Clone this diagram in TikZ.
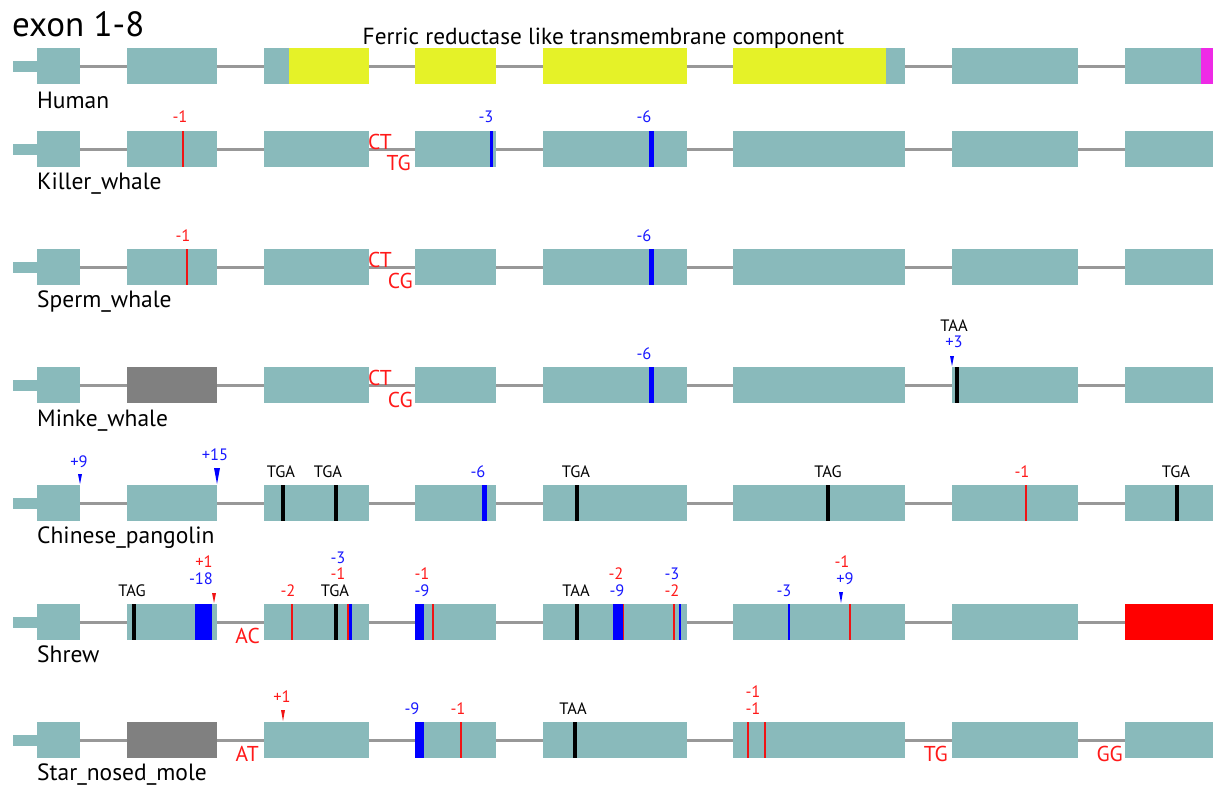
\documentclass[tikz,border=0pt]{standalone}
\usepackage{fontspec}
\setmainfont{PT Sans}
\definecolor{exonteal}{RGB}{137,186,187}
\definecolor{tmyellow}{RGB}{229,242,40}
\definecolor{tmmag}{RGB}{238,42,230}
\definecolor{introngray}{RGB}{152,152,152}
\definecolor{pseudogray}{RGB}{128,128,128}
\definecolor{mred}{RGB}{240,20,20}
\definecolor{purered}{RGB}{255,0,0}
\definecolor{mblue}{RGB}{0,0,255}
\definecolor{tred}{RGB}{255,25,25}
\definecolor{tblue}{RGB}{25,25,255}

% exon row: stub, eight exons (named <row>e1..e8) and the introns joining them
\newcommand\exonrow[2]{%
  \node[stub] (#1s) at (13,#2+12.5) {};
  \foreach \i/\a/\b in {1/37/80,2/127/217,3/264/369,4/415/496,5/543/687,6/733/905,7/952/1078,8/1125/1213}{
    \node[exon, minimum width={(\b-\a)*1pt}] (#1e\i) at (\a,#2) {};
  }
  \foreach \i/\j in {1/2,2/3,3/4,4/5,5/6,6/7,7/8}{
    \draw[intron] (#1e\i.east) -- (#1e\j.west);
  }
}
% vertical mutation bar: colour, x, width, row top
\newcommand\mk[4]{\fill[#1] ({#2-#3/2},#4) rectangle ({#2+#3/2},#4+36);}
% coloured block inside an exon: colour, x from, x to, row top
\newcommand\blk[4]{\fill[#1] (#2,#4) rectangle (#3,#4+36);}
% insertion pointer: colour, x, width, y top, y tip
\newcommand\tri[5]{\fill[#1] ({#2-#3/2},#4) -- ({#2+#3/2},#4) -- (#2,#5) -- cycle;}
% small label: name, colour, x, baseline, text
\newcommand\lb[5]{\node[lab,text=#2] (#1) at (#3,#4) {#5};}

\begin{document}
\begin{tikzpicture}[x=1pt,y=-1pt,
  exon/.style={fill=exonteal, inner sep=0pt, outer sep=0pt, minimum height=36pt, anchor=north west},
  stub/.style={fill=exonteal, inner sep=0pt, outer sep=0pt, minimum width=24pt, minimum height=11.5pt, anchor=north west},
  intron/.style={draw=introngray, line width=3pt},
  lab/.style={font=\fontsize{16.5}{16.5}\selectfont, inner sep=0pt, anchor=base},
  species/.style={font=\fontsize{23.5}{24}\selectfont, inner sep=0pt, anchor=base west},
  bnd/.style={text=tred, font=\fontsize{21.5}{21.5}\selectfont, inner sep=0pt},
]
\useasboundingbox (0,0) rectangle (1214,787);

\node[font=\fontsize{35}{35}\selectfont, inner sep=0pt, anchor=base west] (title) at (12,36) {exon 1-8};
\node[font=\fontsize{23.3}{24}\selectfont, inner sep=0pt, anchor=base] (domain) at (603.5,44) {Ferric reductase like transmembrane component};

% Human
\exonrow{hu}{48}
\blk{tmyellow}{289}{369}{48}
\blk{tmyellow}{415}{496}{48}
\blk{tmyellow}{543}{687}{48}
\blk{tmyellow}{733}{886}{48}
\blk{tmmag}{1201}{1213}{48}
\node[species] (huname) at (37,108) {Human};

% Killer whale
\exonrow{kw}{131}
\mk{mred}{183}{1.5}{131}
\mk{mblue}{491}{3}{131}
\mk{mblue}{651}{5}{131}
\lb{kwa}{tred}{180}{122}{-1}
\lb{kwb}{tblue}{486}{122}{-3}
\lb{kwc}{tblue}{644}{122}{-6}
\node[bnd, anchor=base west] (kwct) at (368,149) {CT};
\node[bnd, anchor=base east] (kwtg) at (411,170) {TG};
\node[species] (kwname) at (37,189) {Killer\_whale};

% Sperm whale
\exonrow{sw}{249}
\mk{mred}{187}{1.5}{249}
\mk{mblue}{651}{5}{249}
\lb{swa}{tred}{183}{241}{-1}
\lb{swb}{tblue}{644}{241}{-6}
\node[bnd, anchor=base west] (swct) at (368,267) {CT};
\node[bnd, anchor=base east] (swcg) at (413,288) {CG};
\node[species] (swname) at (37,307) {Sperm\_whale};

% Minke whale
\exonrow{mw}{367}
\blk{pseudogray}{127}{217}{367}
\mk{mblue}{651}{5}{367}
\mk{black}{957}{4}{367}
\tri{mblue}{952}{4}{356}{366}
\lb{mwa}{tblue}{644}{359}{-6}
\lb{mwb}{tblue}{954}{347}{+3}
\lb{mwc}{black}{954}{331}{TAA}
\node[bnd, anchor=base west] (mwct) at (368,385) {CT};
\node[bnd, anchor=base east] (mwcg) at (413,407) {CG};
\node[species] (mwname) at (37,426) {Minke\_whale};

% Chinese pangolin
\exonrow{cp}{485}
\tri{mblue}{80}{4}{474}{484}
\tri{mblue}{217}{6}{468}{484}
\mk{black}{283}{4}{485}
\mk{black}{336}{4}{485}
\mk{mblue}{484}{5}{485}
\mk{black}{577}{4}{485}
\mk{black}{828}{4}{485}
\mk{mred}{1026}{1.2}{485}
\mk{black}{1177}{4}{485}
\lb{cpa}{tblue}{79}{467}{+9}
\lb{cpb}{tblue}{215}{460}{+15}
\lb{cpc}{black}{281}{477}{TGA}
\lb{cpd}{black}{328}{477}{TGA}
\lb{cpe}{tblue}{478}{477}{-6}
\lb{cpf}{black}{576}{477}{TGA}
\lb{cpg}{black}{828}{477}{TAG}
\lb{cph}{tred}{1022}{477}{-1}
\lb{cpi}{black}{1176}{477}{TGA}
\node[species] (cpname) at (37,543) {Chinese\_pangolin};

% Shrew
\exonrow{sh}{604}
\blk{purered}{1125}{1213}{604}
\mk{black}{134}{4}{604}
\blk{mblue}{195}{212}{604}
\tri{mred}{214}{4}{593}{603}
\mk{mred}{292}{2}{604}
\mk{black}{336}{4}{604}
\mk{mred}{348}{1.5}{604}
\mk{mblue}{350.5}{2.5}{604}
\blk{mblue}{415}{424}{604}
\mk{mred}{433}{1.5}{604}
\mk{black}{577}{4}{604}
\blk{mblue}{613}{622.5}{604}
\mk{mred}{623.5}{1.5}{604}
\mk{mred}{674}{2}{604}
\mk{mblue}{680}{2.5}{604}
\mk{mblue}{789}{2.5}{604}
\mk{mred}{850}{1.5}{604}
\tri{mblue}{841}{4}{592}{603}
\lb{sha}{black}{132}{596}{TAG}
\lb{shb}{tblue}{201}{584}{-18}
\lb{shc}{tred}{204}{567}{+1}
\lb{shd}{tred}{288}{596}{-2}
\lb{she}{black}{335}{596}{TGA}
\lb{shf}{tred}{338}{579}{-1}
\lb{shg}{tblue}{338}{563}{-3}
\lb{shh}{tblue}{422}{596}{-9}
\lb{shi}{tred}{422}{579}{-1}
\lb{shj}{black}{576}{596}{TAA}
\lb{shk}{tblue}{617}{596}{-9}
\lb{shl}{tred}{616}{579}{-2}
\lb{shm}{tred}{672}{596}{-2}
\lb{shn}{tblue}{672}{579}{-3}
\lb{sho}{tblue}{784}{596}{-3}
\lb{shp}{tblue}{845}{584}{+9}
\lb{shq}{tred}{842}{567}{-1}
\node[bnd, anchor=base east] (shac) at (260,643) {AC};
\node[species] (shname) at (37,662) {Shrew};

% Star-nosed mole
\exonrow{sm}{722}
\blk{pseudogray}{127}{217}{722}
\tri{mred}{283}{4}{710}{721}
\blk{mblue}{415}{424}{722}
\mk{mred}{461}{1.5}{722}
\mk{black}{575}{4}{722}
\mk{mred}{748}{1.2}{722}
\mk{mred}{765}{1.2}{722}
\lb{sma}{tred}{282}{702}{+1}
\lb{smb}{tblue}{412}{714}{-9}
\lb{smc}{tred}{458}{714}{-1}
\lb{smd}{black}{573}{714}{TAA}
\lb{sme}{tred}{753}{714}{-1}
\lb{smf}{tred}{753}{697}{-1}
\node[bnd, anchor=base east] (smat) at (259,761) {AT};
\node[bnd, anchor=base east] (smtg) at (948,761) {TG};
\node[bnd, anchor=base east] (smgg) at (1123,761) {GG};
\node[species] (smname) at (37,780) {Star\_nosed\_mole};
\end{tikzpicture}
\end{document}
